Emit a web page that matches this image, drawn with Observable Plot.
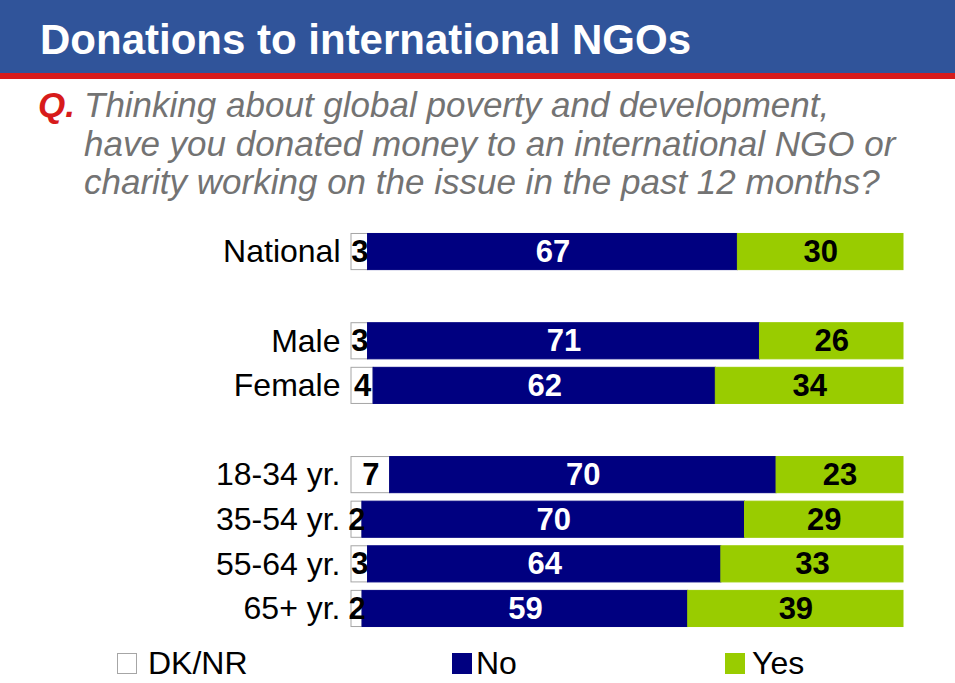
<!DOCTYPE html>
<html>
<head>
<meta charset="utf-8">
<script src="https://cdn.jsdelivr.net/npm/d3@7"></script>
<script src="https://cdn.jsdelivr.net/npm/@observablehq/plot@0.6"></script>
<style>
  html, body { margin: 0; padding: 0; background: #ffffff; }
  body { width: 955px; height: 683px; position: relative; overflow: hidden; font-family: "Liberation Sans", Arial, sans-serif; }
  #header { position: absolute; left: 0; top: 0; width: 955px; height: 73px; background: #30549A; border-bottom: 6px solid #D71B1B; }
  #title { position: absolute; left: 40px; top: 19px; font-size: 42px; line-height: 42px; font-weight: bold; color: #ffffff; white-space: nowrap; }
  #question { position: absolute; left: 38px; top: 86px; font-size: 35px; line-height: 38.5px; font-style: italic; color: #737373; }
  #question .q { position: absolute; left: 0; top: 0; color: #D71B1B; font-weight: bold; }
  #question .lines { position: absolute; left: 46px; top: 0; white-space: nowrap; }
  #chart { position: absolute; left: 0; top: 215px; }
  .leg { position: absolute; top: 646px; font-size: 32px; line-height: 34px; color: #000; white-space: nowrap; }
  .sw { position: absolute; top: 653px; width: 20px; height: 21px; box-sizing: border-box; }
</style>
</head>
<body>
<div id="header"><div id="title">Donations to international NGOs</div></div>
<div id="question"><span class="q">Q.</span><div class="lines">Thinking about global poverty and development,<br>have you donated money to an international NGO or<br>charity working on the issue in the past 12 months?</div></div>
<div id="chart"></div>
<div id="legend"></div>
<script>
const groups = ["National", "Male", "Female", "18-34 yr.", "35-54 yr.", "55-64 yr.", "65+ yr."];
const rowOrder = ["National", "gap1", "Male", "Female", "gap2", "18-34 yr.", "35-54 yr.", "55-64 yr.", "65+ yr."];
const dkValues = [3, 3, 4, 7, 2, 3, 2];
const noValues = [67, 71, 62, 70, 70, 64, 59];
const yesValues = [30, 26, 34, 23, 29, 33, 39];
const responses = ["DK/NR", "No", "Yes"];
const fillColors = ["#FFFFFF", "#000080", "#99CC00"];
const strokeColors = ["#A6A6A6", "#000080", "#99CC00"];
const labelColors = ["#000000", "#FFFFFF", "#000000"];

const series = [dkValues, noValues, yesValues];
const data = [];
groups.forEach((g, i) => {
  responses.forEach((r, j) => {
    data.push({group: g, response: r, value: series[j][i], ri: j});
  });
});

const stackOpts = {offset: "normalize", x: "value", y: "group", z: "response", order: responses};

const chart = Plot.plot({
  width: 955,
  height: 426,
  marginLeft: 351,
  marginRight: 52,
  marginTop: 10,
  marginBottom: 6,
  style: {fontFamily: "'Liberation Sans', Arial, sans-serif", color: "#000", background: "transparent"},
  x: {axis: null, domain: [0, 1]},
  y: {domain: rowOrder, padding: 0.19, round: false, label: null},
  color: {type: "identity"},
  marks: [
    Plot.barX(data, Plot.stackX({
      ...stackOpts,
      fill: d => fillColors[d.ri],
      stroke: d => strokeColors[d.ri],
      strokeWidth: 1
    })),
    Plot.text(data, Plot.stackX({
      ...stackOpts,
      text: d => String(d.value),
      fill: d => labelColors[d.ri],
      fontSize: 31,
      fontWeight: "bold"
    })),
    Plot.axisY(groups, {tickSize: 0, tickPadding: 11, fontSize: 32, fill: "#000", label: null})
  ]
});
document.getElementById("chart").appendChild(chart);

// Legend
const legend = document.getElementById("legend");
const legPos = [[117, 148], [452, 476], [725, 752]];
responses.forEach((r, j) => {
  const sw = document.createElement("div");
  sw.className = "sw";
  sw.style.left = legPos[j][0] + "px";
  sw.style.background = fillColors[j];
  sw.style.border = "1px solid " + strokeColors[j];
  legend.appendChild(sw);
  const t = document.createElement("div");
  t.className = "leg";
  t.style.left = legPos[j][1] + "px";
  t.textContent = r;
  legend.appendChild(t);
});
</script>
</body>
</html>
